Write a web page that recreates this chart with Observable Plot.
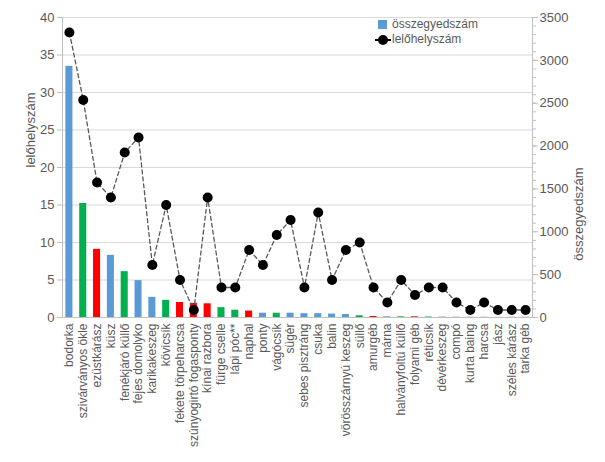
<!DOCTYPE html>
<html>
<head>
<meta charset="utf-8">
<script src="https://cdn.jsdelivr.net/npm/d3@7"></script>
<script src="https://cdn.jsdelivr.net/npm/@observablehq/plot@0.6"></script>
<style>
  html, body { margin: 0; padding: 0; background: #fff; }
  #wrap { position: relative; width: 605px; height: 462px; font-family: "Liberation Sans", Arial, sans-serif; }
  #legend { position: absolute; left: 372px; top: 17px; font-size: 12px; color: #595959; line-height: 15px; }
  #legend .row { display: flex; align-items: center; height: 15px; }
  #legend .sw { width: 20px; height: 15px; position: relative; }
  #legend .sq { position: absolute; left: 6px; top: 3px; width: 9px; height: 9px; background: #5B9BD5; }
  #legend .ln { position: absolute; left: 3px; top: 7px; width: 16px; height: 1.5px; background: #000; }
  #legend .dt { position: absolute; left: 6px; top: 2.5px; width: 10px; height: 10px; border-radius: 50%; background: #000; }
</style>
</head>
<body>
<div id="wrap">
  <div id="chart"></div>
  <div id="legend">
    <div class="row"><div class="sw"><div class="sq"></div></div><span>összegyedszám</span></div>
    <div class="row"><div class="sw"><div class="ln"></div><div class="dt"></div></div><span>lelőhelyszám</span></div>
  </div>
</div>
<script>
const categories = ["bodorka","szivárványos ökle","ezüstkárász","küsz","fenékjáró küllő","fejes domolyko","karikakeszeg","kövicsík","fekete törpeharcsa","szúnyogirtó fogasponty","kínai razbora","fürge cselle","lápi póc**","naphal","ponty","vágócsík","sügér","sebes pisztráng","csuka","balin","vörösszárnyú keszeg","süllő","amurgéb","márna","halványfoltú küllő","folyami géb","réticsík","dévérkeszeg","compó","kurta baing","harcsa","jász","széles kárász","tarka géb"];
const lelohelyszam = [38,29,18,16,22,24,7,15,5,1,16,4,4,9,7,11,13,4,14,5,9,10,4,2,5,3,4,4,2,1,2,1,1,1];
const osszegyedszam = [2930,1330,795,725,535,430,235,200,175,165,160,115,85,75,50,50,50,45,45,40,35,20,12,8,8,8,6,5,4,3,3,2,2,2];
const csoport = ["b","g","r","b","g","b","b","g","r","r","r","g","g","r","b","g","b","b","b","b","b","g","r","b","g","r","g","b","b","g","b","b","r","r"];
const leftTicks = [0,5,10,15,20,25,30,35,40];
const rightTicks = [0,500,1000,1500,2000,2500,3000,3500];
const rightMinor = d3.range(0, 3501, 100);

const k = 40 / 3500;
const rows = categories.map((c, i) => ({c, sites: lelohelyszam[i], count: osszegyedszam[i], g: csoport[i]}));
const colorMap = {b: "#5B9BD5", g: "#00B050", r: "#FF0000"};

const chart = Plot.plot({
  width: 605, height: 462,
  marginLeft: 62, marginRight: 73, marginTop: 17, marginBottom: 145,
  style: {fontFamily: "'Liberation Sans', Arial, sans-serif", fontSize: "12px", color: "#595959", background: "#fff"},
  x: {domain: categories, paddingInner: 0.49, paddingOuter: 0.245, round: false, label: null},
  y: {domain: [0, 40], label: null},
  marks: [
    Plot.gridY(leftTicks.filter(d => d > 0), {stroke: "#d9d9d9", strokeOpacity: 1}),
    Plot.barY(rows, {x: "c", y: d => d.count * k, fill: d => colorMap[d.g]}),
    Plot.frame({anchor: "left", stroke: "#bfbfbf"}),
    Plot.frame({anchor: "right", stroke: "#bfbfbf"}),
    Plot.frame({anchor: "bottom", stroke: "#bfbfbf"}),
    Plot.line(rows, {x: "c", y: "sites", stroke: "#595959", strokeWidth: 1.3, strokeDasharray: "4,3"}),
    Plot.dot(rows, {x: "c", y: "sites", r: 5, fill: "#000"}),
    Plot.axisY(leftTicks, {anchor: "left", tickSize: 5, stroke: "#bfbfbf", tickPadding: 3, label: null, fontSize: 13}),
    Plot.axisY(rightTicks.map(v => v * k), {anchor: "right", tickSize: 5, stroke: "#bfbfbf", tickPadding: 2, tickFormat: d => String(Math.round(d / k)), label: null, fontSize: 13}),
    Plot.axisY(rightMinor.map(v => v * k), {anchor: "right", tickSize: 3, stroke: "#bfbfbf", tickFormat: () => "", label: null}),
    Plot.axisX({tickRotate: -90, tickSize: 0, tickPadding: 6, label: null, fontSize: 12}),
    Plot.text(["lelőhelyszám"], {frameAnchor: "left", dx: -32, rotate: -90, text: d => d, fontSize: 13, fill: "#595959"}),
    Plot.text(["összegyedszám"], {frameAnchor: "right", dx: 46, rotate: -90, text: d => d, fontSize: 13, fill: "#595959"})
  ]
});
document.getElementById("chart").appendChild(chart);
</script>
</body>
</html>
